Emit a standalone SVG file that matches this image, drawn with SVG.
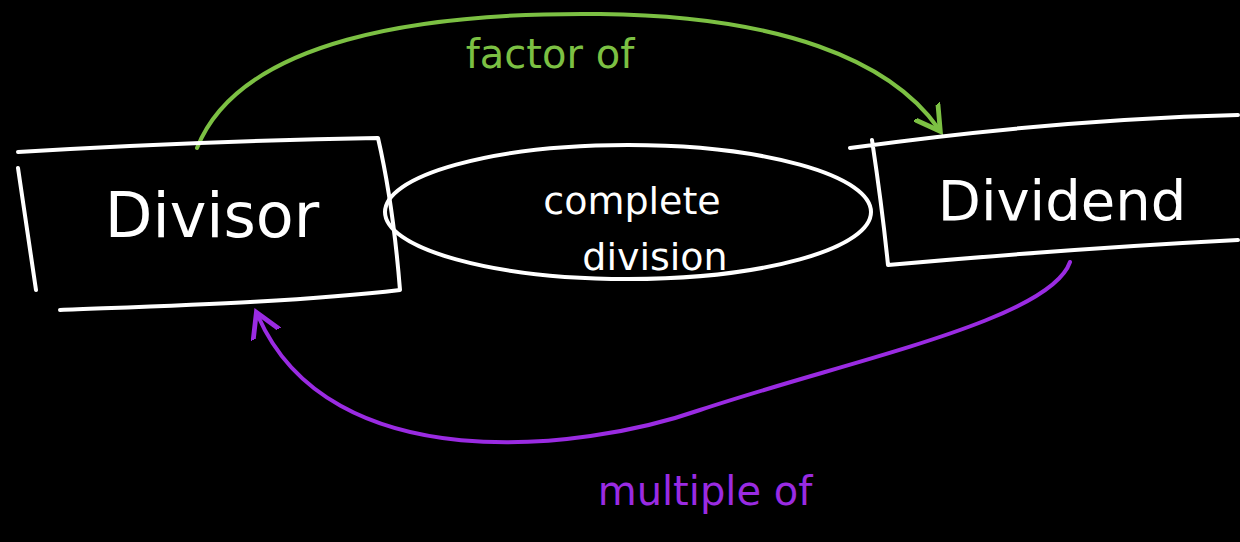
<svg xmlns="http://www.w3.org/2000/svg" width="1240" height="542" viewBox="0 0 1240 542">
<style>
.w{fill:none;stroke:#ffffff;stroke-width:4;stroke-linecap:round;stroke-linejoin:round}
.g{fill:none;stroke:#7cc043;stroke-width:4;stroke-linecap:round}
.p{fill:none;stroke:#9a2be2;stroke-width:4;stroke-linecap:round}
.t{font-family:"DejaVu Sans",sans-serif;fill:#ffffff;text-anchor:middle}
</style>
<defs>
<marker id="ag" markerWidth="8" markerHeight="8" refX="5" refY="4" orient="auto" markerUnits="strokeWidth"><path d="M0,0.5 L6,4 L0,7.5" fill="none" stroke="#7cc043" stroke-width="1.2" stroke-linecap="round"/></marker>
<marker id="ap" markerWidth="8" markerHeight="8" refX="5" refY="4" orient="auto" markerUnits="strokeWidth"><path d="M0,0.5 L6,4 L0,7.5" fill="none" stroke="#9a2be2" stroke-width="1.2" stroke-linecap="round"/></marker>
</defs>
<rect width="1240" height="542" fill="#000000"/>
<g id="connectors">
<path class="g" d="M197,148 C240,40 420,12 600,14 C780,16 890,60 938,128" marker-end="url(#ag)"/>
<path class="p" d="M1070,262 C1050,320 850,360 700,410 C580,452 330,480 258,316" marker-end="url(#ap)"/>
</g>
<g id="divisor">
<path class="w" d="M18,152 C120,146 260,140 378,138 C390,190 396,240 400,290 C300,302 160,306 60,310 M18,168 C24,210 30,250 36,290"/>
<text class="t" x="212" y="237" font-size="62">Divisor</text>
</g>
<g id="complete-division">
<ellipse class="w" cx="628" cy="212" rx="243" ry="67"/>
<text class="t" x="632" y="214" font-size="38">complete</text>
<text class="t" x="655" y="270" font-size="38">division</text>
</g>
<g id="dividend">
<path class="w" d="M850,148 C980,130 1120,118 1238,115 M872,140 C878,180 884,225 888,265 C1000,255 1120,246 1238,240"/>
<text class="t" x="1062" y="220" font-size="56">Dividend</text>
</g>
<g id="labels">
<text x="550" y="68" font-family="DejaVu Sans,sans-serif" font-size="40" fill="#7cc043" text-anchor="middle">factor of</text>
<text x="705" y="505" font-family="DejaVu Sans,sans-serif" font-size="40" fill="#9a2be2" text-anchor="middle">multiple of</text>
</g>
</svg>
